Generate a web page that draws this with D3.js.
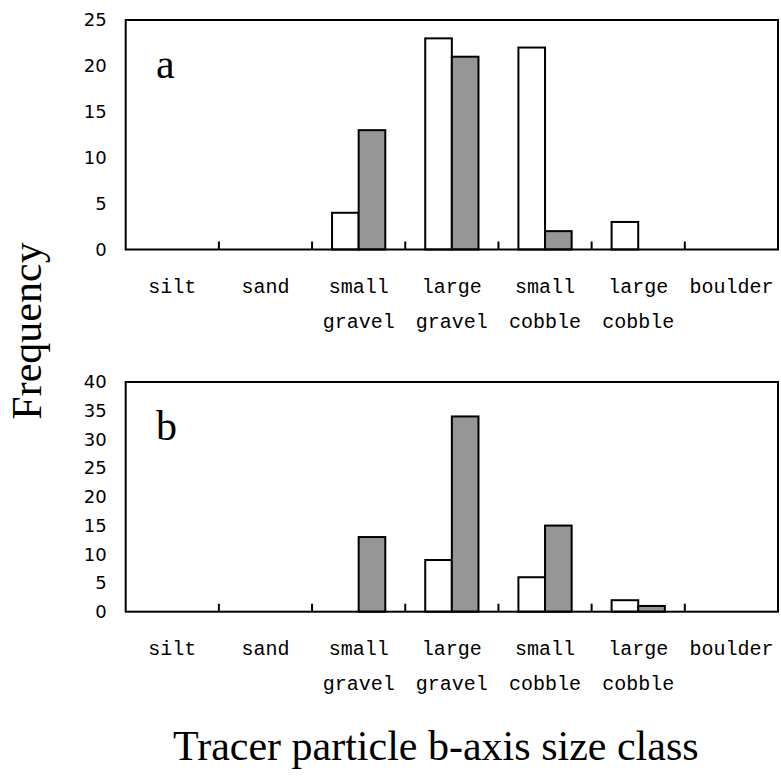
<!DOCTYPE html>
<html>
<head>
<meta charset="utf-8">
<script src="https://cdn.jsdelivr.net/npm/d3@7"></script>
<style>
  html, body { margin: 0; padding: 0; background: #fff; }
  svg { display: block; }
</style>
</head>
<body>
<svg id="chart" width="781" height="778"></svg>
<script>
// Size classes along the x axis
const categories = ["silt", "sand", "small gravel", "large gravel", "small cobble", "large cobble", "boulder"];

// Panel a frequencies
const panelAOpen = [0, 0, 4, 23, 22, 3, 0];
const panelAFilled = [0, 0, 13, 21, 2, 0, 0];

// Panel b frequencies
const panelBOpen = [0, 0, 0, 9, 6, 2, 0];
const panelBFilled = [0, 0, 13, 34, 15, 1, 0];

// Y tick labels
const ticksA = [0, 5, 10, 15, 20, 25];
const ticksB = [0, 5, 10, 15, 20, 25, 30, 35, 40];

const seriesKeys = ["open", "filled"];
const seriesFill = { open: "#ffffff", filled: "#969696" };

const svg = d3.select("#chart");
const left = 125.7, right = 778;

const panels = [
  { label: "a", top: 20, bottom: 249.5, max: 25, ticks: ticksA, open: panelAOpen, filled: panelAFilled },
  { label: "b", top: 382, bottom: 611.7, max: 40, ticks: ticksB, open: panelBOpen, filled: panelBFilled }
];

const x = d3.scaleBand().domain(categories).range([left, right]).padding(0);
const xs = d3.scaleBand().domain(seriesKeys).range([0, x.bandwidth()]).paddingInner(0).paddingOuter(0.75);

panels.forEach(p => {
  const y = d3.scaleLinear().domain([0, p.max]).range([p.bottom, p.top]);
  const g = svg.append("g");

  // bars
  const rows = categories.map((c, i) => ({ c, open: p.open[i], filled: p.filled[i] }));
  rows.forEach(r => {
    seriesKeys.forEach(k => {
      if (r[k] > 0) {
        g.append("rect")
          .attr("x", x(r.c) + xs(k))
          .attr("y", y(r[k]))
          .attr("width", xs.bandwidth())
          .attr("height", y(0) - y(r[k]))
          .attr("fill", seriesFill[k])
          .attr("stroke", "#000")
          .attr("stroke-width", 2);
      }
    });
  });

  // plot frame
  g.append("rect")
    .attr("x", left).attr("y", p.top)
    .attr("width", right - left).attr("height", p.bottom - p.top)
    .attr("fill", "none").attr("stroke", "#000").attr("stroke-width", 2);

  // category boundary ticks on the baseline
  categories.slice(1).forEach(c => {
    g.append("line")
      .attr("x1", x(c)).attr("x2", x(c))
      .attr("y1", p.bottom).attr("y2", p.bottom - 8)
      .attr("stroke", "#000").attr("stroke-width", 2);
  });

  // y axis labels
  const yAxis = d3.axisLeft(y).tickValues(p.ticks).tickSize(0).tickPadding(19);
  const ya = g.append("g").attr("transform", `translate(${left},0)`).call(yAxis);
  ya.select(".domain").remove();
  ya.selectAll("text")
    .attr("font-family", "DejaVu Sans")
    .attr("font-size", 18)
    .attr("fill", "#000");

  // category labels
  categories.forEach(c => {
    const words = c.split(" ");
    const t = g.append("text")
      .attr("font-family", "Liberation Mono")
      .attr("font-size", 20)
      .attr("text-anchor", "middle")
      .attr("fill", "#000");
    words.forEach((w, i) => {
      t.append("tspan")
        .attr("x", x(c) + x.bandwidth() / 2)
        .attr("y", p.bottom + 43.5 + i * 35)
        .text(w);
    });
  });

  // panel letter
  g.append("text")
    .attr("x", 156).attr("y", p.top + 58)
    .attr("font-family", "Liberation Serif")
    .attr("font-size", 42)
    .attr("fill", "#000")
    .text(p.label);
});

// axis titles
svg.append("text")
  .attr("transform", "translate(41,331) rotate(-90)")
  .attr("text-anchor", "middle")
  .attr("font-family", "Liberation Serif")
  .attr("font-size", 42)
  .attr("fill", "#000")
  .text("Frequency");

svg.append("text")
  .attr("x", 173).attr("y", 760)
  .attr("text-anchor", "start")
  .attr("font-family", "Liberation Serif")
  .attr("font-size", 42)
  .attr("fill", "#000")
  .text("Tracer particle b-axis size class");
</script>
</body>
</html>
